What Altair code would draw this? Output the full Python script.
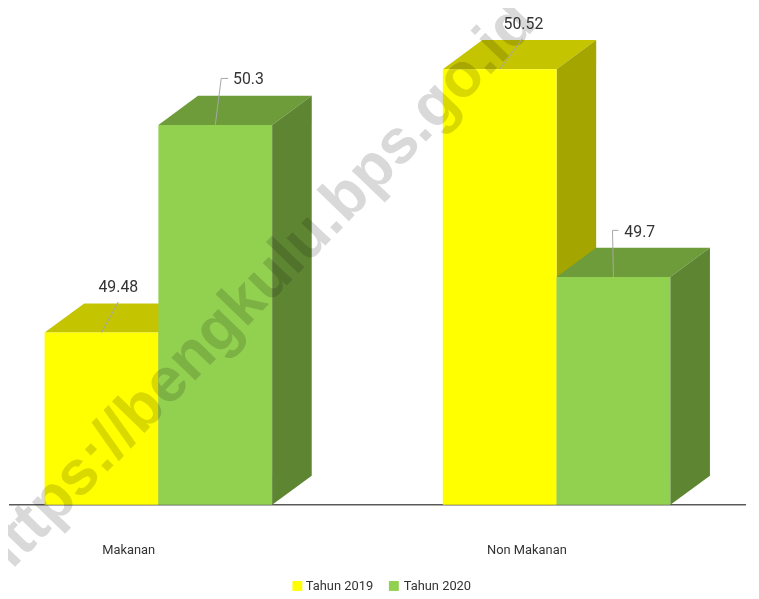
import altair as alt
import pandas as pd

# ---- data ----
categories = ["Makanan", "Non Makanan"]
series = ["Tahun 2019", "Tahun 2020"]
values_2019 = [49.48, 50.52]
values_2020 = [50.3, 49.7]
watermark = "https://bengkulu.bps.go.id"

# ---- styles ----
front_colors = ["#FFFF00", "#92D050"]
top_colors = ["#C4C400", "#6E9C3B"]
side_colors = ["#A5A500", "#5E8632"]
FONT = "Roboto"
TEXT_COLOR = "#333333"

# ---- layout ----
W, H = 741, 581           # plot area (autosize none, default padding 5)
PAD = 5
BAR_PX = 115.0            # one bar width in pixels
VAL_PX = 256.0            # pixels per value unit
BASE = 48.8               # truncated value axis baseline
GAP = 1.5                 # gap between groups, in bar widths
ORIGIN_X = 45             # page x of the first bar's left edge
BASE_Y = 507              # page y of the baseline
DEPTH_X = 40 / BAR_PX
DEPTH_Y = 29.5 / VAL_PX


def ux(px):
    return (px - ORIGIN_X) / BAR_PX


def vy(py):
    return BASE + (BASE_Y - py) / VAL_PX


left, top = 8 + PAD, 8 + PAD
X_DOMAIN = [ux(left), ux(left + W)]
Y_DOMAIN = [vy(top + H), vy(top)]

series_values = [values_2019, values_2020]

label_layout = {
    (0, 0): dict(end=(17, -31), elbow=None, text=(17, -46), al="center"),
    (0, 1): dict(end=(6, -47), elbow=13, text=(18, -46), al="left"),
    (1, 0): dict(end=(23, -31), elbow=None, text=(24, -46), al="center"),
    (1, 1): dict(end=(-1, -47), elbow=5, text=(11, -45), al="left"),
}

fronts, faces, leaders, labels, cats = [], [], [], [], []
for ci, cat in enumerate(categories):
    gl = ci * (len(series) + GAP)
    cats.append(dict(label=cat, x=gl + len(series) / 2 - 30 / BAR_PX, y=BASE - 46 / VAL_PX))
    for si, s in enumerate(series):
        v = series_values[si][ci]
        xl, xr = gl + si, gl + si + 1
        fronts.append(dict(series=s, x=xl, x2=xr, y=BASE, y2=v))
        fid = f"{ci}-{si}"
        tc, sc = top_colors[si], side_colors[si]
        for px, ya, yb in [(xl, v, v), (xl + DEPTH_X, v, v + DEPTH_Y),
                           (xr, v, v + DEPTH_Y), (xr + DEPTH_X, v + DEPTH_Y, v + DEPTH_Y)]:
            faces.append(dict(si=si, face=fid + "t", col=tc, x=px, y=ya, y2=yb))
        for px, ya, yb in [(xr, BASE, v), (xr + DEPTH_X, BASE + DEPTH_Y, v + DEPTH_Y)]:
            faces.append(dict(si=si, face=fid + "s", col=sc, x=px, y=ya, y2=yb))
        lay = label_layout[(ci, si)]
        ax, ay = xl + 0.5, v
        ex, ey = ax + lay["end"][0] / BAR_PX, ay - lay["end"][1] / VAL_PX
        leaders.append(dict(x=ax, y=ay, x2=ex, y2=ey))
        if lay["elbow"] is not None:
            leaders.append(dict(x=ex, y=ey, x2=ax + lay["elbow"] / BAR_PX, y2=ey))
        labels.append(dict(label=str(v), al=lay["al"],
                           x=ax + lay["text"][0] / BAR_PX, y=ay - lay["text"][1] / VAL_PX))

# legend entries (symbol centre / label start, page px)
legend_sym_px = [300.5, 398]
legend_txt_px = [309, 408]
legend_y_px = 589
legend = pd.DataFrame([
    dict(series=s, xs=ux(legend_sym_px[i]), xt=ux(legend_txt_px[i]), y=vy(legend_y_px))
    for i, s in enumerate(series)
])

fronts = pd.DataFrame(fronts)
faces = pd.DataFrame(faces)
leaders = pd.DataFrame(leaders)
labels = pd.DataFrame(labels)
cats = pd.DataFrame(cats)

xs = alt.Scale(domain=X_DOMAIN, nice=False, zero=False)
ys = alt.Scale(domain=Y_DOMAIN, nice=False, zero=False)
face_cols = top_colors + side_colors
front_scale = alt.Scale(domain=series, range=front_colors)


def face_layer(si):
    return alt.Chart(faces[faces.si == si]).mark_area(orient="vertical").encode(
        x=alt.X("x:Q", scale=xs, axis=None),
        y=alt.Y("y:Q", scale=ys, axis=None),
        y2="y2:Q",
        color=alt.Color("col:N", scale=alt.Scale(domain=face_cols, range=face_cols), legend=None),
        detail="face:N",
    )


front_layer = alt.Chart(fronts).mark_rect().encode(
    x=alt.X("x:Q", scale=xs, axis=None),
    x2="x2:Q",
    y=alt.Y("y:Q", scale=ys, axis=None),
    y2="y2:Q",
    color=alt.Color("series:N", scale=front_scale, legend=None),
)

baseline = alt.Chart(pd.DataFrame([dict(x=ux(9), x2=X_DOMAIN[1], y=BASE)])).mark_rule(
    color="#5A5A5A", strokeWidth=1.5
).encode(x=alt.X("x:Q", scale=xs, axis=None), x2="x2:Q", y=alt.Y("y:Q", scale=ys, axis=None))

leader_layer = alt.Chart(leaders).mark_rule(color="#A6A6A6", strokeWidth=1).encode(
    x=alt.X("x:Q", scale=xs, axis=None), x2="x2:Q",
    y=alt.Y("y:Q", scale=ys, axis=None), y2="y2:Q"
)


def label_layer(al):
    return alt.Chart(labels[labels["al"] == al]).mark_text(
        align=al, baseline="middle", font=FONT, fontSize=16, color=TEXT_COLOR
    ).encode(x=alt.X("x:Q", scale=xs, axis=None), y=alt.Y("y:Q", scale=ys, axis=None),
             text="label:N")


cat_layer = alt.Chart(cats).mark_text(
    align="center", baseline="middle", font=FONT, fontSize=13, color=TEXT_COLOR
).encode(x=alt.X("x:Q", scale=xs, axis=None), y=alt.Y("y:Q", scale=ys, axis=None),
         text="label:N")

legend_sym = alt.Chart(legend).mark_square(size=100, opacity=1).encode(
    x=alt.X("xs:Q", scale=xs, axis=None), y=alt.Y("y:Q", scale=ys, axis=None),
    color=alt.Color("series:N", scale=front_scale, legend=None),
)
legend_txt = alt.Chart(legend).mark_text(
    align="left", baseline="middle", font=FONT, fontSize=13, color=TEXT_COLOR
).encode(x=alt.X("xt:Q", scale=xs, axis=None), y=alt.Y("y:Q", scale=ys, axis=None),
         text="series:N")

wm = alt.Chart(pd.DataFrame([dict(label=watermark, x=ux(257), y=vy(292))])).mark_text(
    align="center", baseline="middle", font="Liberation Sans", fontWeight="bold",
    fontSize=63, angle=314, color="#D9D9D9", blend="multiply"
).encode(x=alt.X("x:Q", scale=xs, axis=None), y=alt.Y("y:Q", scale=ys, axis=None),
         text="label:N")

chart = alt.layer(
    baseline, face_layer(0), front_layer, face_layer(1), wm, leader_layer,
    label_layer("center"), label_layer("left"), cat_layer, legend_sym, legend_txt,
).resolve_scale(color="independent").properties(
    width=W, height=H, autosize=alt.AutoSizeParams(type="none")
).configure_view(stroke="transparent")

chart.save("out.html", embed_options={"renderer": "svg", "actions": False})
